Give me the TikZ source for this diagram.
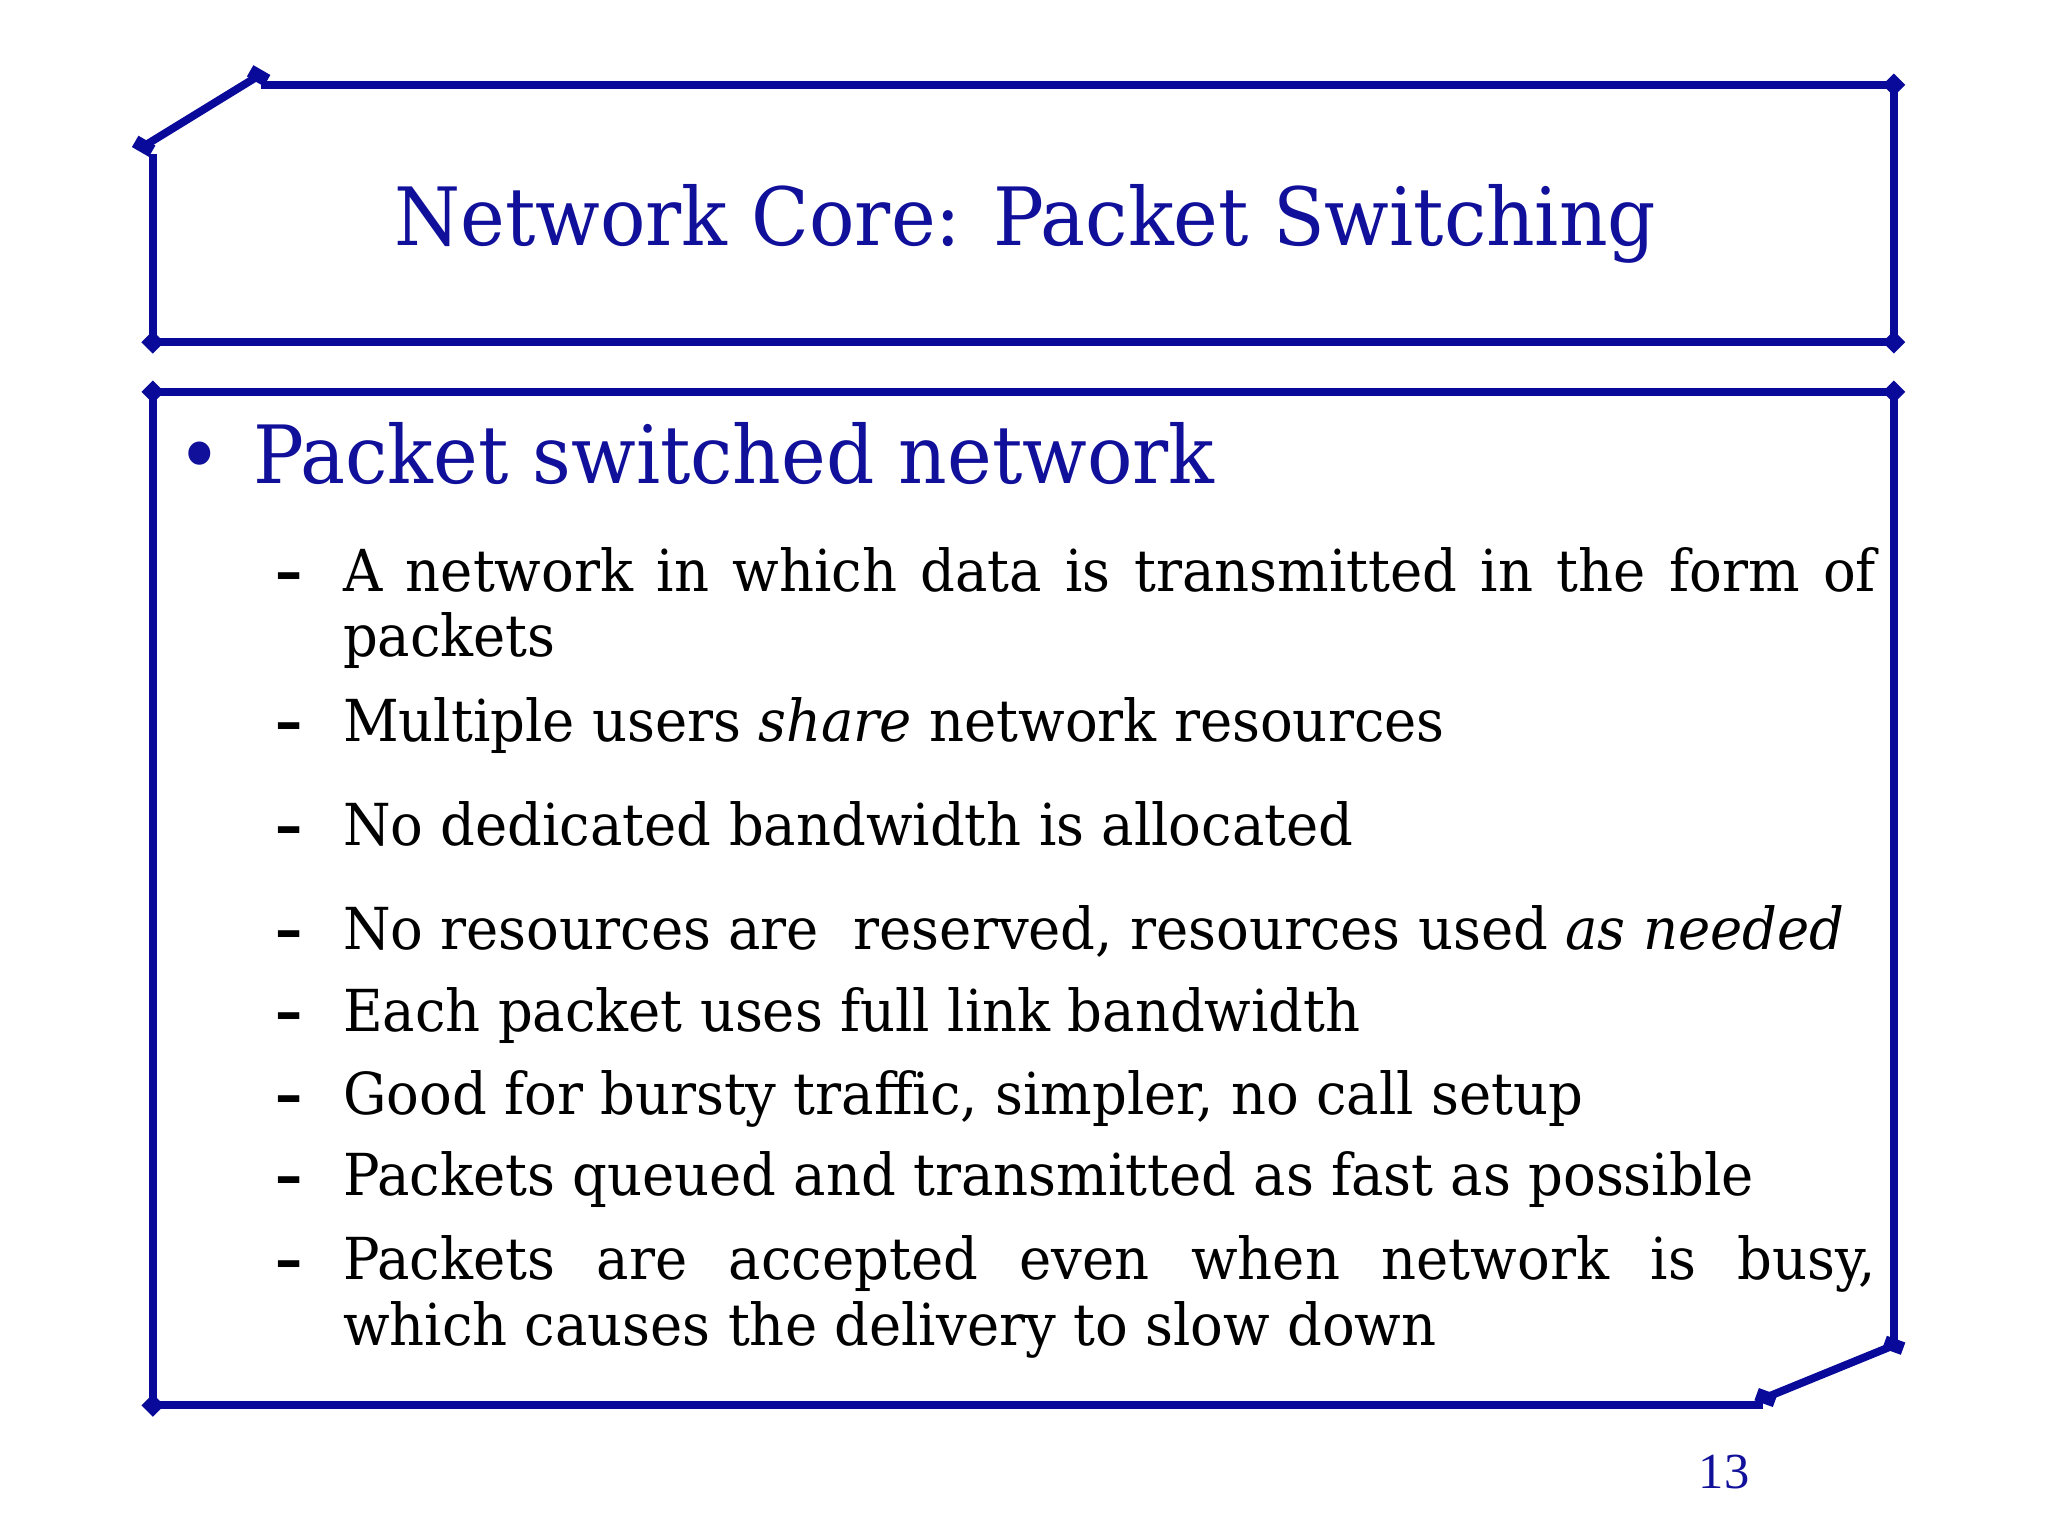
\documentclass[tikz,border=0pt]{standalone}
\usepackage{fontspec}
\usetikzlibrary{shapes.geometric}
\setmainfont[FakeStretch=0.94]{DejaVu Serif}
\newfontfamily\numfont{Liberation Serif}
\definecolor{fr}{HTML}{0A0A9A}
\definecolor{tt}{HTML}{10109A}
\begin{document}
\begin{tikzpicture}[x=0.01cm,y=-0.01cm,
  frm/.style={draw=fr,line width=0.06cm},
  dia/.style={fill=fr,draw=fr,minimum size=0.16cm,inner sep=0pt,shape=diamond},
  sq/.style={fill=fr,rotate=-30,minimum width=0.15cm,minimum height=0.1cm,inner sep=0pt},
  itm/.style={anchor=base west,inner sep=0pt,font=\fontsize{12.6}{15}\selectfont},
  dsh/.style={anchor=base west,inner sep=0pt,font=\fontsize{12.6}{15}\selectfont\bfseries}]
\useasboundingbox (0,0) rectangle (1568,1176);
% title frame
\coordinate (a1) at (198,58); \coordinate (a2) at (110,112);
\coordinate (a3) at (117,118); \coordinate (a4) at (117,262);
\coordinate (a5) at (1450,262); \coordinate (a6) at (1450,65);
\coordinate (a7) at (200,65);
\draw[frm] (a1) -- (a2);
\draw[frm] (a3) -- (a4) -- (a5) -- (a6) -- (a7);
\node[sq] at (a1) {}; \node[sq] at (a2) {};
\foreach \p in {a4,a5,a6} \node[dia] at (\p) {};
\node[anchor=base,text=tt,font=\fontsize{17.5}{20}\selectfont] (title) at (785,188) {Network Core: Packet Switching};
% body frame
\coordinate (b1) at (117,300); \coordinate (b2) at (1450,300);
\coordinate (b3) at (1450,1030); \coordinate (b4) at (1352,1070);
\coordinate (b5) at (1350,1076); \coordinate (b6) at (117,1076);
\draw[frm] (b3) -- (b2) -- (b1) -- (b6) -- (b5);
\draw[frm] (b3) -- (b4);
\foreach \p in {b1,b2,b6} \node[dia] at (\p) {};
\node[sq,rotate=10] at (b3) {}; \node[sq,rotate=10] at (b4) {};
\node[anchor=base west,inner sep=0pt,text=tt,font=\fontsize{17.5}{20}\selectfont] (bul) at (135,370) {\textbullet};
\node[anchor=base west,inner sep=0pt,text=tt,font=\fontsize{17.5}{20}\selectfont] (head) at (193,370) {Packet switched network};
\foreach \y in {453,568,647,727,790,853,915,980} \node[dsh] at (210,\y) {–};
\node[itm] (i1) at (262,453) {\makebox[11.73cm][s]{A network in which data is transmitted in the form of}};
\node[itm] (i1b) at (262,503) {packets};
\node[itm] (i2) at (262,568) {Multiple users \textit{share} network resources};
\node[itm] (i3) at (262,647) {No dedicated bandwidth is allocated};
\node[itm] (i4) at (262,727) {No resources are\ \ reserved, resources used \textit{as needed}};
\node[itm] (i5) at (262,790) {Each packet uses full link bandwidth};
\node[itm] (i6) at (262,853) {Good for bursty traffic, simpler, no call setup};
\node[itm] (i7) at (262,915) {Packets queued and transmitted as fast as possible};
\node[itm] (i8) at (262,980) {\makebox[11.73cm][s]{Packets are accepted even when network is busy,}};
\node[itm] (i8b) at (262,1030) {which causes the delivery to slow down};
\node[anchor=base,text=tt,font=\numfont\fontsize{11}{13}\selectfont] (pg) at (1320,1140) {13};
\end{tikzpicture}
\end{document}
